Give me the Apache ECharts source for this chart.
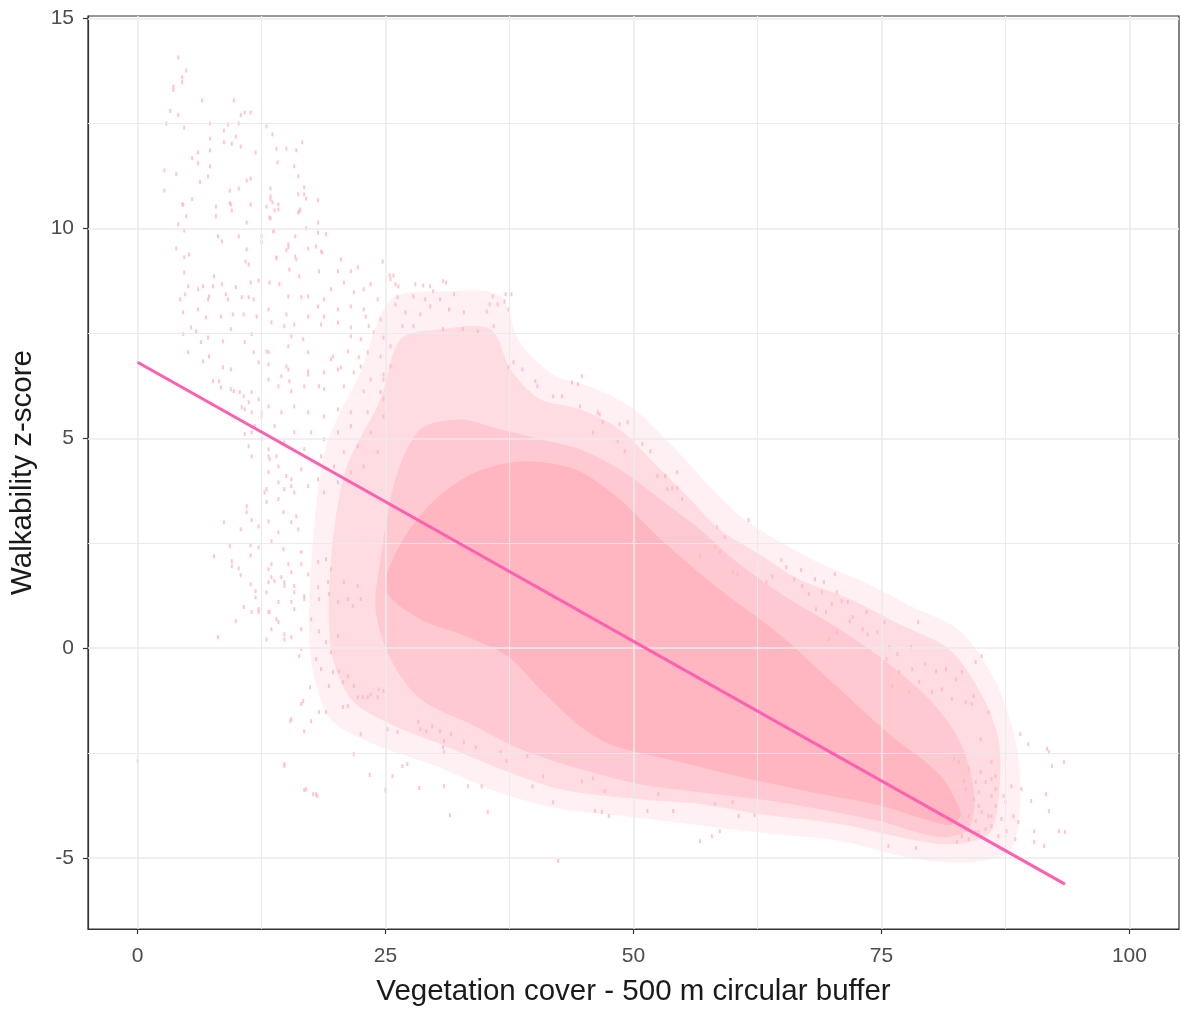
<!DOCTYPE html>
<html lang="en">
<head>
    <meta charset="UTF-8">
    <title>Walkability vs vegetation cover</title>
    <style>
        body { margin: 0; background: #fff; }
        #chart { width: 1182px; height: 1012px; }
    </style>
</head>
<body>
<div id="chart"></div>
<script src="https://cdn.jsdelivr.net/npm/echarts@6/dist/echarts.min.js"></script>
<script>
    // axis ticks
    var xTicks = [0, 25, 50, 75, 100];
    var xMinor = [12.5, 37.5, 62.5, 87.5];
    var yTicks = [-5, 0, 5, 10, 15];
    var yMinor = [-2.5, 2.5, 7.5, 12.5];

    // fitted line end points
    var fitX = [0, 93.5];
    var fitY = [6.81, -5.62];

    // outlines of the point cloud (faint edge, sparse halo, medium, solid core)
    var outerOutline = [[17.5,2.0],[19.0,4.8],[22.5,6.6],[25.5,8.3],[30.6,8.5],[36.5,8.4],[38.5,7.3],[42.0,6.5],
        [46.0,6.2],[50.0,5.7],[54.0,4.8],[57.5,3.9],[61.0,3.1],[65.0,2.5],[69.0,2.0],[73.0,1.6],[78.0,1.0],[83.0,0.4],
        [86.5,-0.8],[88.5,-2.2],[89.0,-3.6],[88.0,-4.8],[84.0,-5.1],[78.0,-5.0],[71.0,-4.6],[63.0,-4.4],[56.0,-4.2],
        [49.0,-4.0],[42.0,-3.8],[36.0,-3.4],[30.0,-2.8],[24.0,-2.3],[19.5,-1.7],[17.5,-0.3]];
    var haloOutline = [[19.5,2.12],[21.0,4.26],[24.5,5.93],[26.5,7.36],[30.6,7.6],[35.6,7.6],[37.6,6.64],[40.6,5.93],
        [44.6,5.69],[48.6,5.21],[52.7,4.26],[55.7,3.55],[58.7,2.83],[62.7,2.24],[66.7,1.64],[71.8,1.17],[76.8,0.57],
        [81.8,-0.02],[84.8,-0.98],[86.8,-2.17],[86.8,-3.6],[85.8,-4.43],[81.8,-4.67],[76.8,-4.5],[70.8,-4.19],
        [62.7,-3.95],[56.7,-3.71],[50.7,-3.6],[42.6,-3.36],[36.6,-2.88],[30.6,-2.29],[25.5,-1.81],[21.5,-1.21],[19.5,-0.02]];
    var midOutline = [[24.5,2.12],[26.0,4.02],[28.5,5.21],[32.6,5.45],[36.6,5.21],[40.6,4.98],[44.6,4.74],[48.6,4.26],
        [52.7,3.55],[56.7,2.83],[60.7,2.0],[65.7,1.17],[70.8,0.45],[75.8,-0.38],[79.8,-1.21],[82.8,-2.17],[84.3,-3.36],
        [83.8,-4.31],[80.8,-4.5],[74.8,-4.12],[68.7,-3.83],[62.7,-3.6],[56.7,-3.43],[50.7,-3.24],[44.6,-2.88],
        [38.6,-2.4],[33.6,-1.81],[28.5,-1.21],[25.5,-0.26],[24.0,0.93]];
    var coreOutline = [[25.0,1.4],[26.5,2.48],[29.5,3.43],[33.6,4.14],[38.6,4.45],[44.1,4.26],[48.6,3.55],[52.7,2.6],
        [58.7,1.4],[64.7,0.33],[70.8,-0.98],[75.8,-2.05],[80.8,-3.0],[83.0,-3.95],[81.8,-4.21],[74.8,-3.74],
        [68.0,-3.43],[61.4,-3.1],[54.7,-2.71],[47.9,-2.31],[44.6,-1.86],[40.6,-0.98],[37.3,-0.19],[32.6,0.33],[28.5,0.69]];

    // scattered points outside the dense cloud
    var topLeftPoints = [[4.1,14.07],[4.9,13.76],[4.5,13.6],[4.5,13.48],[3.6,13.38],[3.6,13.3],[6.5,13.05],[9.7,13.05],
        [3.3,12.8],[4.1,12.7],[10.4,12.7],[10.8,12.76],[11.4,12.76],[2.9,12.5],[7.3,12.5],[4.7,12.4],[9.1,12.48],[10.2,12.5],
        [13.0,12.43],[8.7,12.33],[7.3,12.14],[13.6,12.24],[8.7,12.05],[9.5,12.02],[9.9,12.19],[10.4,11.95],[14.0,11.9],
        [15.0,11.9],[16.0,11.86],[7.3,11.86],[11.9,11.81],[6.1,11.81],[5.5,11.67],[6.1,11.55],[7.3,11.48],[14.1,11.57],
        [15.8,11.48],[2.7,11.38],[3.9,11.29],[7.1,11.24],[11.4,11.19],[11.0,11.14],[6.3,11.1],[2.7,10.9],[9.3,10.9],
        [10.2,10.95],[13.4,10.95],[5.5,10.7],[4.5,10.57],[9.3,10.6],[11.4,10.57],[13.4,10.69],[13.6,10.62],[14.2,10.57],
        [7.9,10.52],[9.5,10.43],[4.9,10.29],[7.9,10.29],[11.0,10.14],[13.3,10.26],[4.1,10.1],[4.7,9.95],[13.7,9.95],
        [8.1,9.81],[10.2,9.81],[12.5,9.81],[15.9,9.81],[16.6,12.05],[16.2,11.24],[16.8,10.98],[16.2,10.81],[16.8,10.81],
        [17.0,10.71],[18.2,10.67],[16.4,10.45],[13.4,10.76],[13.8,10.43],[13.4,10.24],[16.2,10.38],[18.2,10.14],[17.0,10.0],
        [18.2,9.9],[19.0,9.86],[15.2,9.62],[17.2,9.52],[18.0,9.57],[18.6,9.43],[15.0,9.48],[15.9,9.33],[14.0,9.31]];
    var upperLeftPoints = [[4.6,10.57],[9.4,10.57],[8.5,9.69],[3.9,9.52],[4.7,9.31],[5.2,9.38],[11.0,9.5],[10.9,9.21],
        [11.2,9.14],[4.7,8.95],[7.7,8.86],[5.1,8.62],[6.1,8.55],[6.6,8.62],[7.6,8.62],[8.5,8.67],[9.9,8.6],[11.4,8.71],
        [12.2,8.76],[4.3,8.31],[4.8,8.43],[7.1,8.31],[7.2,8.38],[8.9,8.43],[9.1,8.31],[10.5,8.36],[11.2,8.36],[11.7,8.31],
        [4.6,8.0],[6.1,8.07],[6.9,7.88],[8.4,7.9],[9.6,7.95],[10.7,7.95],[12.0,7.9],[5.4,7.64],[5.9,7.55],[9.4,7.6],
        [4.6,7.48],[6.4,7.29],[7.1,7.4],[8.6,7.31],[10.8,7.29],[11.5,7.48],[5.1,7.05],[6.6,6.83],[7.2,6.95],[8.6,6.69],
        [9.4,6.64],[11.7,7.05],[12.2,6.81],[7.6,6.36],[8.2,6.36],[8.4,6.21],[9.4,6.17],[9.7,6.12],
        [13.0,10.52],[14.2,10.45],[16.3,10.4],[13.7,9.93],[12.5,9.67],[15.2,9.55],[16.0,9.26],[14.0,9.29],[15.3,9.02],
        [18.5,9.45],[20.5,9.26],[21.5,8.98],[22.2,9.07],[24.7,9.21],[20.2,8.98],[18.3,8.98],[16.3,8.86],[13.3,8.71],
        [14.3,8.67],[15.2,8.38],[16.5,8.36],[17.2,8.38],[18.2,8.14],[18.8,8.31],[19.5,8.55],[20.8,8.71],[21.8,8.48],
        [22.8,8.55],[23.5,8.67],[24.2,8.31],[25.5,8.79],[26.3,8.62],[21.5,8.14],[22.8,8.07],[20.2,8.07],[18.8,7.9],
        [17.2,7.9],[15.0,7.95],[13.2,8.07],[13.5,7.76],[14.8,7.67],[15.8,7.71],[18.5,7.71],[20.2,7.76],[21.5,7.64],
        [23.0,7.9],[24.5,7.83],[23.3,7.67],[21.5,7.43],[22.5,7.36],[23.8,7.52],[24.8,7.4],[16.7,7.36],[15.5,7.43],
        [13.2,7.05],[15.2,7.19],[17.2,7.05],[19.7,6.95],[21.2,7.07],[22.3,6.93],[23.2,7.05],[24.5,6.95],[25.5,7.19],
        [13.2,6.76],[15.2,6.64],[17.2,6.6],[18.8,6.57],[20.2,6.64],[21.8,6.57],[23.5,6.4],[24.8,6.52],[20.8,6.24],
        [18.8,6.17],[16.8,6.24],[15.5,6.12],[14.2,6.24],[13.2,6.4],[22.8,6.12],[24.5,6.1],[10.7,6.0],[11.2,5.86],
        [12.2,5.93],[11.5,5.62],[12.5,5.62],[10.5,5.74],[13.2,5.76]];
    var leftMidPoints = [[13.0,7.07],[15.0,6.71],[14.5,6.48],[15.3,6.36],[17.2,6.52],[18.3,6.24],[19.5,6.88],[20.5,6.69],
        [22.5,6.71],[24.8,6.4],[25.5,6.71],[10.3,6.1],[11.5,6.1],[10.8,5.69],[12.5,5.52],[11.8,5.29],[11.5,5.14],
        [10.8,5.1],[12.5,4.98],[11.2,4.81],[11.5,4.57],[13.2,4.74],[13.3,4.5],[14.2,4.33],[13.2,4.19],[14.2,3.95],
        [14.8,3.79],[13.0,3.79],[15.8,3.71],[15.5,4.02],[16.5,4.26],[17.2,3.86],[18.2,4.02],[18.8,3.71],[20.2,3.95],
        [19.8,4.33],[18.5,4.57],[16.8,4.74],[14.8,4.9],[15.8,5.14],[17.5,5.14],[18.8,4.98],[20.2,5.14],[21.5,5.29],
        [22.2,4.81],[22.8,4.33],[21.5,4.19],[20.8,4.67],[23.5,5.14],[24.2,4.67],[24.8,5.52],[23.2,5.62],[21.5,5.62],
        [20.2,5.69],[18.8,5.52],[17.2,5.62],[15.8,5.76],[14.5,5.62],[13.8,5.29],[24.8,5.93],
        [11.0,3.38],[11.0,3.24],[8.7,3.0],[11.5,3.05],[10.4,2.83],[12.2,2.9],[9.3,2.43],[11.4,2.45],[12.2,2.4],[7.7,2.19],
        [11.4,2.21],[9.5,2.07],[9.5,1.95],[10.2,1.9],[10.4,1.74],[11.4,1.52],[11.9,1.36],[11.9,1.21],[10.7,0.98],
        [12.2,0.86],[11.5,0.86],[9.9,0.64],[8.1,0.26],[13.2,4.57],[14.0,4.57],[12.8,3.71],[13.0,3.48],[14.2,3.55],
        [15.0,4.1],[15.5,3.86],[14.7,3.24],[13.2,3.02],[14.2,2.76],[15.5,3.0],[16.0,3.14],[16.2,2.83],[13.5,2.55],
        [14.7,2.36],[16.5,2.29],[15.2,2.0],[13.2,1.88],[13.5,1.69],[14.5,1.69],[14.8,1.48],[15.8,1.48],[13.0,1.33],
        [14.2,1.1],[15.5,1.1],[16.8,1.24],[13.2,0.86],[14.2,0.62],[14.8,0.33],[13.5,0.45],
        [17.2,1.76],[18.2,2.05],[19.0,2.12],[19.5,1.88],[13.5,2.0],[13.2,1.57],[13.8,1.6],[14.8,1.57],[12.2,0.93],
        [13.3,0.86],[14.0,0.69],[13.0,0.21],[14.8,0.21],[15.5,0.26],[15.8,0.93],[16.5,0.45],[17.5,0.69],[18.3,0.4],
        [16.5,-0.02],[16.3,-0.19],[18.0,-0.26],[19.5,-0.1],[19.0,0.14],[20.2,0.29],[18.5,-0.5],[19.7,-0.57],[20.3,-0.55],
        [21.2,-0.67],[20.7,-0.81],[16.8,1.17],[15.8,1.33],[18.3,1.17],[19.3,1.29],[20.2,1.1],[21.2,1.17],[21.7,1.0],
        [22.5,1.17],[16.5,2.0],[15.5,1.81],[19.2,1.57],[20.8,1.57],[22.2,1.48],[18.2,1.45]];
    var lowerPoints = [[19.3,-0.9],[17.4,-0.93],[16.7,-1.26],[18.3,-1.52],[19.0,-1.52],[15.4,-1.74],[17.5,-1.74],
        [16.8,-1.98],[20.7,-1.4],[21.2,-1.38],[21.8,-0.9],[22.2,-1.17],[22.7,-1.17],[23.2,-1.17],[23.5,-1.1],[24.2,-1.17],
        [24.3,-0.98],[24.8,-1.02],[21.8,-2.52],[14.8,-2.81],[23.4,-3.02],[16.8,-3.38],[17.7,-3.48],[18.1,-3.52],
        [25.0,-3.36],[25.2,-1.93],[28.3,-1.76],[29.1,-1.98],[29.7,-1.86],[30.9,-2.21],[0,-2.69],[14.8,-2.76],[17.0,-3.36],
        [18.0,-3.48],[22.5,-2.05],[15.5,-1.69],[16.5,-1.33],[42.4,-5.07],
        [26.7,-2.81],[27.2,-2.76],[25.7,-3.05],[25.0,-3.4],[28.4,-3.33],[30.9,-3.29],[33.3,-3.29],[34.7,-3.29],
        [31.5,-3.98],[35.3,-3.9],[39.8,-3.29],[40.9,-3.05],[41.9,-3.67],[46.1,-3.88],[46.8,-3.9],[47.5,-4.0],
        [44.8,-3.17],[45.9,-3.1],[47.1,-3.4],[51.4,-3.88],[54.0,-3.88],[52.5,-3.48],[30.8,-2.36],[30.9,-2.48],[34.1,-2.36],
        [36.6,-2.48],[37.2,-2.69],[39.3,-2.57],[28.5,-1.93],[26.2,-2.0],[30.5,-1.98],[32.9,-2.24],[31.6,-2.05]];
    var rightPoints = [[56.7,-4.6],[57.9,-4.48],[58.7,-4.36],[60.6,-4.0],[62.2,-3.98],[58.2,-3.71],[60.0,-3.67],
        [78.5,-4.76],[75.7,-4.71],[82.6,-4.62],[85.1,-0.19],[84.5,-0.33],[85.8,-1.52],[85.0,-2.17],[84.3,-1.14],
        [83.1,-0.57],[81.5,-0.5],[80.5,-0.55],[82.5,-0.74],[78.8,-0.81],[78.1,-0.5],[76.8,-0.57],[79.4,-0.38],
        [76.6,-0.14],[75.5,-0.26],[76.1,-0.9],[77.8,-1.05],[80.1,-1.05],[81.1,-0.98],[82.1,-1.21],[83.5,-1.29],
        [84.1,-1.33],[86.1,-2.71],[86.1,-3.12],[85.5,-3.19],[84.8,-3.43],[86.1,-3.52],[86.5,-3.76],[86.1,-4.0],
        [84.8,-3.76],[83.8,-4.0],[83.1,-4.48],[84.5,-4.38],[83.5,-3.36],
        [92.2,-2.81],[93.4,-2.71],[91.9,-2.48],[90.1,-3.64],[91.6,-3.48],[91.9,-3.88],[92.9,-4.36],[93.5,-4.38],
        [90.4,-4.36],[91.4,-4.71],[90.4,-4.62],[89.1,-3.36],[88.1,-3.29],[88.3,-4.0],[88.8,-4.14],[87.5,-3.67],
        [87.6,-4.36],[88.5,-4.55],[86.5,-3.36],[87.3,-3.52],[83.8,-4.55],[84.8,-4.38],[85.5,-4.31],[86.1,-4.24],
        [86.8,-4.48],[87.1,-4.07],[84.5,-4.12],[85.1,-3.9],[85.8,-4.0],[84.3,-3.6],[86.5,-3.05],[85.0,-2.95],
        [83.8,-2.88],[82.8,-2.71],[82.3,-2.64],[84.5,-3.19],[83.3,-3.17],[89.0,-2.05],[89.8,-2.29],[91.7,-2.4],
        [61.6,3.05],[58.4,2.88],[59.2,2.64],[54.4,4.19],[53.2,4.1],[53.9,3.81],[54.4,3.81],[54.9,3.55],[64.9,2.1],
        [65.4,1.93],[66.9,1.86],[70.3,1.76],[68.3,1.64],[69.2,1.57],[64.0,1.71],[63.4,1.57],[66.2,1.64],[67.0,1.48],
        [70.5,1.33],[71.0,1.12],[71.6,1.1],[69.0,1.33],[67.7,1.29],[68.4,0.93],[69.4,0.86],[70.0,1.05],[73.5,0.86],
        [72.1,0.74],[71.8,0.64],[75.3,0.62],[78.7,0.62],[73.1,0.45],[74.6,0.38],[73.6,0.33],[70.5,0.38],[69.7,0.21],
        [75.8,0.02],[78.0,0.02],[58.7,2.29],[58.2,2.4],[56.7,2.19],[60.0,1.81],[60.5,1.76]];
    var upperMidPoints = [[25.4,8.88],[25.8,8.88],[26.0,8.67],[28.0,8.67],[28.8,8.64],[29.5,8.62],[29.8,8.5],[30.8,8.74],
        [31.1,8.71],[31.9,8.43],[30.5,8.31],[29.0,8.31],[27.8,8.38],[26.2,8.36],[35.8,8.38],[37.1,8.43],[37.7,8.43],
        [37.0,8.26],[36.3,8.19],[35.5,8.19],[35.2,8.02],[37.4,8.07],[32.9,8.0],[31.4,8.07],[29.5,8.14],[28.5,7.95],
        [27.0,8.0],[26.0,8.19],[35.9,7.67],[34.3,7.55],[32.8,7.6],[30.8,7.6],[27.8,7.67],[26.7,7.67],[44.8,6.48],
        [43.8,6.33],[44.4,6.29],[40.1,6.36],[40.3,6.24],[38.8,6.64],[37.9,6.81],[37.4,6.69],[48.6,5.33],[49.4,5.38],
        [46.4,5.62],[46.6,5.57],[46.9,5.38],[41.9,6.0],[42.8,6.0],[44.6,5.76],[45.9,5.14],[48.4,4.93],[49.1,4.69],
        [50.9,4.86],[51.7,4.69],[52.4,4.1],[53.4,3.79],[53.2,4.1]];

    var PINK = '#ffb6c1';
    var LINE_PINK = '#ff5fb0';
    var FONT = 'Liberation Sans, Arial, sans-serif';

    var allPoints = topLeftPoints.concat(upperLeftPoints, leftMidPoints, lowerPoints, rightPoints, upperMidPoints);

    function cloudLayer(outline, alpha) {
        return {
            type: 'custom',
            coordinateSystem: 'cartesian2d',
            silent: true,
            clip: true,
            z: 2,
            data: [outline[0]],
            renderItem: function (params, api) {
                var pts = outline.map(function (p) { return api.coord(p); });
                return {
                    type: 'polygon',
                    shape: { points: pts, smooth: 0.3 },
                    style: { fill: PINK, opacity: alpha }
                };
            }
        };
    }

    function gridLines() {
        var items = [];
        xTicks.forEach(function (v) { items.push({ xAxis: v, lineStyle: { width: 1.6 } }); });
        xMinor.forEach(function (v) { items.push({ xAxis: v, lineStyle: { width: 1 } }); });
        yTicks.forEach(function (v) { items.push({ yAxis: v, lineStyle: { width: 1.6 } }); });
        yMinor.forEach(function (v) { items.push({ yAxis: v, lineStyle: { width: 1 } }); });
        return items;
    }

    var myChart = echarts.init(document.getElementById('chart'), null, { renderer: 'canvas' });
    var option = {
        backgroundColor: '#ffffff',
        animation: false,
        grid: {
            left: 87, top: 16, width: 1092, height: 914,
            show: true, borderColor: '#333333', borderWidth: 1.2, backgroundColor: 'transparent'
        },
        xAxis: {
            type: 'value', min: -5, max: 105,
            splitLine: { show: false },
            axisLine: { show: true, onZero: false, lineStyle: { color: '#333333', width: 1.2 } },
            axisTick: { show: true, customValues: xTicks, length: 5, lineStyle: { color: '#333333', width: 1.2 } },
            axisLabel: { customValues: xTicks, color: '#4d4d4d', fontSize: 21, fontFamily: FONT, margin: 17 },
            name: 'Vegetation cover - 500 m circular buffer',
            nameLocation: 'middle', nameGap: 48,
            nameTextStyle: { fontSize: 29.5, color: '#1a1a1a', fontFamily: FONT }
        },
        yAxis: {
            type: 'value', min: -6.69, max: 15.06,
            splitLine: { show: false },
            axisLine: { show: true, onZero: false, lineStyle: { color: '#333333', width: 1.2 } },
            axisTick: { show: true, customValues: yTicks, length: 5, lineStyle: { color: '#333333', width: 1.2 } },
            axisLabel: { customValues: yTicks, color: '#4d4d4d', fontSize: 21, fontFamily: FONT, margin: 14 },
            name: 'Walkability z-score',
            nameLocation: 'middle', nameGap: 50, nameRotate: 90,
            nameTextStyle: { fontSize: 29.5, color: '#1a1a1a', fontFamily: FONT }
        },
        series: [
            {
                type: 'line', data: [], z: 0, silent: true,
                markLine: {
                    silent: true, symbol: 'none', label: { show: false },
                    lineStyle: { color: '#ebebeb', type: 'solid' },
                    data: gridLines()
                }
            },
            cloudLayer(outerOutline, 0.2),
            cloudLayer(haloOutline, 0.35),
            cloudLayer(midOutline, 0.5),
            cloudLayer(coreOutline, 1),
            {
                type: 'scatter', z: 3, silent: true,
                symbol: 'rect', symbolSize: [2, 4],
                itemStyle: { color: PINK },
                data: allPoints
            },
            {
                type: 'line', z: 5, silent: true,
                showSymbol: false, symbol: 'none',
                lineStyle: { color: LINE_PINK, width: 3 },
                data: fitX.map(function (x, i) { return [x, fitY[i]]; })
            }
        ]
    };
    myChart.setOption(option);
</script>
</body>
</html>
